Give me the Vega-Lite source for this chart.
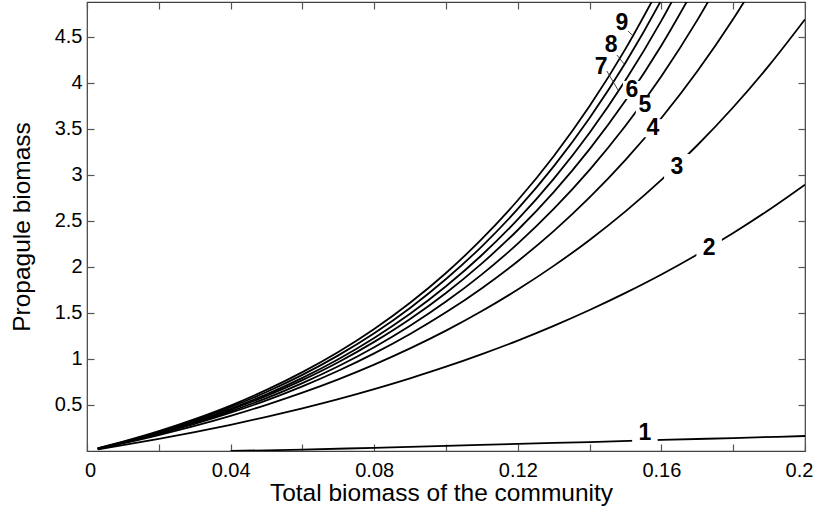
{
  "$schema": "https://vega.github.io/schema/vega-lite/v6.json",
  "width": 718,
  "height": 449,
  "autosize": "none",
  "padding": {"left": 87, "top": 2, "right": 11, "bottom": 61},
  "background": "white",
  "config": {
    "view": {"stroke": "#404040", "strokeWidth": 1.2},
    "axis": {
      "domain": false,
      "grid": false,
      "tickColor": "#555555",
      "tickSize": -7,
      "tickWidth": 1.2,
      "labelFont": "Liberation Sans",
      "labelFontSize": 20,
      "labelColor": "#000000",
      "titleFont": "Liberation Sans",
      "titleFontSize": 24.5,
      "titleFontWeight": "normal",
      "titleColor": "#000000"
    }
  },
  "datasets": {
    "curves": [
      {"curve": "1", "x": 0.04, "y": 0.0}, {"curve": "1", "x": 0.06, "y": 0.015}, {"curve": "1", "x": 0.08, "y": 0.035}, {"curve": "1", "x": 0.1, "y": 0.055}, {"curve": "1", "x": 0.12, "y": 0.078}, {"curve": "1", "x": 0.14, "y": 0.097}, {"curve": "1", "x": 0.16, "y": 0.12}, {"curve": "1", "x": 0.18, "y": 0.141}, {"curve": "1", "x": 0.2, "y": 0.163},

      {"curve": "2", "x": 0.003, "y": 0.018}, {"curve": "2", "x": 0.01, "y": 0.063}, {"curve": "2", "x": 0.02, "y": 0.132}, {"curve": "2", "x": 0.03, "y": 0.205}, {"curve": "2", "x": 0.04, "y": 0.285}, {"curve": "2", "x": 0.05, "y": 0.371}, {"curve": "2", "x": 0.06, "y": 0.464}, {"curve": "2", "x": 0.07, "y": 0.564}, {"curve": "2", "x": 0.08, "y": 0.673}, {"curve": "2", "x": 0.09, "y": 0.79}, {"curve": "2", "x": 0.1, "y": 0.916}, {"curve": "2", "x": 0.11, "y": 1.053}, {"curve": "2", "x": 0.12, "y": 1.2}, {"curve": "2", "x": 0.13, "y": 1.36}, {"curve": "2", "x": 0.14, "y": 1.532}, {"curve": "2", "x": 0.15, "y": 1.718}, {"curve": "2", "x": 0.16, "y": 1.918}, {"curve": "2", "x": 0.17, "y": 2.135}, {"curve": "2", "x": 0.18, "y": 2.369}, {"curve": "2", "x": 0.19, "y": 2.622}, {"curve": "2", "x": 0.2, "y": 2.895},

      {"curve": "3", "x": 0.003, "y": 0.024}, {"curve": "3", "x": 0.01, "y": 0.082}, {"curve": "3", "x": 0.02, "y": 0.173}, {"curve": "3", "x": 0.03, "y": 0.272}, {"curve": "3", "x": 0.04, "y": 0.381}, {"curve": "3", "x": 0.05, "y": 0.502}, {"curve": "3", "x": 0.06, "y": 0.634}, {"curve": "3", "x": 0.07, "y": 0.779}, {"curve": "3", "x": 0.08, "y": 0.939}, {"curve": "3", "x": 0.09, "y": 1.115}, {"curve": "3", "x": 0.1, "y": 1.308}, {"curve": "3", "x": 0.11, "y": 1.521}, {"curve": "3", "x": 0.12, "y": 1.755}, {"curve": "3", "x": 0.13, "y": 2.012}, {"curve": "3", "x": 0.14, "y": 2.294}, {"curve": "3", "x": 0.15, "y": 2.605}, {"curve": "3", "x": 0.16, "y": 2.947}, {"curve": "3", "x": 0.17, "y": 3.323}, {"curve": "3", "x": 0.18, "y": 3.736}, {"curve": "3", "x": 0.19, "y": 4.191}, {"curve": "3", "x": 0.2, "y": 4.691},

      {"curve": "4", "x": 0.003, "y": 0.025}, {"curve": "4", "x": 0.01, "y": 0.087}, {"curve": "4", "x": 0.02, "y": 0.185}, {"curve": "4", "x": 0.03, "y": 0.294}, {"curve": "4", "x": 0.04, "y": 0.416}, {"curve": "4", "x": 0.05, "y": 0.551}, {"curve": "4", "x": 0.06, "y": 0.703}, {"curve": "4", "x": 0.07, "y": 0.872}, {"curve": "4", "x": 0.08, "y": 1.061}, {"curve": "4", "x": 0.09, "y": 1.272}, {"curve": "4", "x": 0.1, "y": 1.507}, {"curve": "4", "x": 0.11, "y": 1.77}, {"curve": "4", "x": 0.12, "y": 2.063}, {"curve": "4", "x": 0.13, "y": 2.39}, {"curve": "4", "x": 0.14, "y": 2.756}, {"curve": "4", "x": 0.15, "y": 3.164}, {"curve": "4", "x": 0.16, "y": 3.619}, {"curve": "4", "x": 0.17, "y": 4.127}, {"curve": "4", "x": 0.18, "y": 4.695}, {"curve": "4", "x": 0.19, "y": 5.328},

      {"curve": "5", "x": 0.003, "y": 0.026}, {"curve": "5", "x": 0.01, "y": 0.089}, {"curve": "5", "x": 0.02, "y": 0.19}, {"curve": "5", "x": 0.03, "y": 0.303}, {"curve": "5", "x": 0.04, "y": 0.431}, {"curve": "5", "x": 0.05, "y": 0.575}, {"curve": "5", "x": 0.06, "y": 0.738}, {"curve": "5", "x": 0.07, "y": 0.921}, {"curve": "5", "x": 0.08, "y": 1.128}, {"curve": "5", "x": 0.09, "y": 1.361}, {"curve": "5", "x": 0.1, "y": 1.624}, {"curve": "5", "x": 0.11, "y": 1.92}, {"curve": "5", "x": 0.12, "y": 2.254}, {"curve": "5", "x": 0.13, "y": 2.631}, {"curve": "5", "x": 0.14, "y": 3.056}, {"curve": "5", "x": 0.15, "y": 3.535}, {"curve": "5", "x": 0.16, "y": 4.074}, {"curve": "5", "x": 0.17, "y": 4.683}, {"curve": "5", "x": 0.18, "y": 5.37},

      {"curve": "6", "x": 0.003, "y": 0.026}, {"curve": "6", "x": 0.01, "y": 0.092}, {"curve": "6", "x": 0.02, "y": 0.196}, {"curve": "6", "x": 0.03, "y": 0.314}, {"curve": "6", "x": 0.04, "y": 0.448}, {"curve": "6", "x": 0.05, "y": 0.599}, {"curve": "6", "x": 0.06, "y": 0.771}, {"curve": "6", "x": 0.07, "y": 0.965}, {"curve": "6", "x": 0.08, "y": 1.186}, {"curve": "6", "x": 0.09, "y": 1.435}, {"curve": "6", "x": 0.1, "y": 1.718}, {"curve": "6", "x": 0.11, "y": 2.039}, {"curve": "6", "x": 0.12, "y": 2.402}, {"curve": "6", "x": 0.13, "y": 2.814}, {"curve": "6", "x": 0.14, "y": 3.281}, {"curve": "6", "x": 0.15, "y": 3.809}, {"curve": "6", "x": 0.16, "y": 4.408}, {"curve": "6", "x": 0.17, "y": 5.087},

      {"curve": "7", "x": 0.003, "y": 0.027}, {"curve": "7", "x": 0.01, "y": 0.094}, {"curve": "7", "x": 0.02, "y": 0.2}, {"curve": "7", "x": 0.03, "y": 0.321}, {"curve": "7", "x": 0.04, "y": 0.459}, {"curve": "7", "x": 0.05, "y": 0.616}, {"curve": "7", "x": 0.06, "y": 0.795}, {"curve": "7", "x": 0.07, "y": 0.998}, {"curve": "7", "x": 0.08, "y": 1.229}, {"curve": "7", "x": 0.09, "y": 1.491}, {"curve": "7", "x": 0.1, "y": 1.79}, {"curve": "7", "x": 0.11, "y": 2.13}, {"curve": "7", "x": 0.12, "y": 2.517}, {"curve": "7", "x": 0.13, "y": 2.958}, {"curve": "7", "x": 0.14, "y": 3.459}, {"curve": "7", "x": 0.15, "y": 4.029}, {"curve": "7", "x": 0.16, "y": 4.677}, {"curve": "7", "x": 0.17, "y": 5.415},

      {"curve": "8", "x": 0.003, "y": 0.028}, {"curve": "8", "x": 0.01, "y": 0.097}, {"curve": "8", "x": 0.02, "y": 0.208}, {"curve": "8", "x": 0.03, "y": 0.334}, {"curve": "8", "x": 0.04, "y": 0.477}, {"curve": "8", "x": 0.05, "y": 0.641}, {"curve": "8", "x": 0.06, "y": 0.827}, {"curve": "8", "x": 0.07, "y": 1.039}, {"curve": "8", "x": 0.08, "y": 1.28}, {"curve": "8", "x": 0.09, "y": 1.555}, {"curve": "8", "x": 0.1, "y": 1.869}, {"curve": "8", "x": 0.11, "y": 2.225}, {"curve": "8", "x": 0.12, "y": 2.631}, {"curve": "8", "x": 0.13, "y": 3.094}, {"curve": "8", "x": 0.14, "y": 3.62}, {"curve": "8", "x": 0.15, "y": 4.22}, {"curve": "8", "x": 0.16, "y": 4.903}, {"curve": "8", "x": 0.17, "y": 5.68},

      {"curve": "9", "x": 0.003, "y": 0.029}, {"curve": "9", "x": 0.01, "y": 0.101}, {"curve": "9", "x": 0.02, "y": 0.215}, {"curve": "9", "x": 0.03, "y": 0.346}, {"curve": "9", "x": 0.04, "y": 0.494}, {"curve": "9", "x": 0.05, "y": 0.664}, {"curve": "9", "x": 0.06, "y": 0.857}, {"curve": "9", "x": 0.07, "y": 1.076}, {"curve": "9", "x": 0.08, "y": 1.326}, {"curve": "9", "x": 0.09, "y": 1.611}, {"curve": "9", "x": 0.1, "y": 1.935}, {"curve": "9", "x": 0.11, "y": 2.305}, {"curve": "9", "x": 0.12, "y": 2.725}, {"curve": "9", "x": 0.13, "y": 3.204}, {"curve": "9", "x": 0.14, "y": 3.749}, {"curve": "9", "x": 0.15, "y": 4.371}, {"curve": "9", "x": 0.16, "y": 5.078}
    ],
    "labels": [
      {"label": "1", "x": 0.1554, "y": 0.196},
      {"label": "2", "x": 0.1733, "y": 2.207},
      {"label": "3", "x": 0.1643, "y": 3.09},
      {"label": "4", "x": 0.1576, "y": 3.508},
      {"label": "5", "x": 0.1554, "y": 3.761},
      {"label": "6", "x": 0.1518, "y": 3.924},
      {"label": "7", "x": 0.1432, "y": 4.174},
      {"label": "8", "x": 0.146, "y": 4.413},
      {"label": "9", "x": 0.149, "y": 4.652}
    ],
    "leaders": [
      {"label": "7", "x": 0.1448, "y": 4.13, "x2": 0.1479, "y2": 3.924},
      {"label": "8", "x": 0.1476, "y": 4.304, "x2": 0.1496, "y2": 4.207},
      {"label": "9", "x": 0.1507, "y": 4.565, "x2": 0.1524, "y2": 4.5}
    ]
  },
  "resolve": {"axis": {"x": "independent", "y": "independent"}},
  "layer": [
    {
      "data": {"name": "curves"},
      "mark": {"type": "line", "color": "#000000", "strokeWidth": 1.8, "interpolate": "monotone", "clip": true},
      "encoding": {
        "x": {
          "field": "x", "type": "quantitative",
          "scale": {"domain": [0, 0.2], "nice": false, "zero": false},
          "axis": {
            "orient": "bottom",
            "title": "Total biomass of the community",
            "titleX": 354,
            "values": [0, 0.02, 0.04, 0.06, 0.08, 0.1, 0.12, 0.14, 0.16, 0.18, 0.2],
            "labelExpr": "abs(round(datum.value * 50)) % 2 == 0 ? format(datum.value, '~g') : ''",
            "labelOffset": {"expr": "datum.value >= 0.19 ? -6 : (datum.value <= 0.001 ? 3 : 0)"},
            "labelPadding": 16,
            "labelFlush": false,
            "labelOverlap": false,
            "titlePadding": 1
          }
        },
        "y": {
          "field": "y", "type": "quantitative",
          "scale": {"domain": [0, 4.88], "nice": false, "zero": false},
          "axis": {
            "orient": "left",
            "title": "Propagule biomass",
            "values": [0.5, 1, 1.5, 2, 2.5, 3, 3.5, 4, 4.5],
            "format": "~g",
            "labelPadding": 12,
            "labelFlush": false,
            "labelOverlap": false,
            "titlePadding": 20
          }
        },
        "detail": {"field": "curve", "type": "nominal"}
      }
    },
    {
      "data": {"name": "labels"},
      "transform": [{"filter": {"field": "label", "oneOf": ["1", "2", "3"]}}],
      "mark": {"type": "point", "shape": "square", "filled": true, "color": "#ffffff", "opacity": 1, "size": 650, "strokeWidth": 0},
      "encoding": {
        "x": {
          "field": "x", "type": "quantitative",
          "axis": {"orient": "top", "title": null, "labels": false, "values": [0, 0.02, 0.04, 0.06, 0.08, 0.1, 0.12, 0.14, 0.16, 0.18, 0.2]}
        },
        "y": {
          "field": "y", "type": "quantitative",
          "axis": {"orient": "right", "title": null, "labels": false, "values": [0.5, 1, 1.5, 2, 2.5, 3, 3.5, 4, 4.5]}
        }
      }
    },
    {
      "data": {"name": "labels"},
      "transform": [{"filter": {"field": "label", "oneOf": ["4", "5", "6"]}}],
      "mark": {"type": "point", "shape": "square", "filled": true, "color": "#ffffff", "opacity": 1, "size": 330, "strokeWidth": 0},
      "encoding": {
        "x": {"field": "x", "type": "quantitative", "axis": null},
        "y": {"field": "y", "type": "quantitative", "axis": null}
      }
    },
    {
      "data": {"name": "leaders"},
      "mark": {"type": "rule", "color": "#333333", "strokeWidth": 0.9},
      "encoding": {
        "x": {"field": "x", "type": "quantitative", "axis": null},
        "y": {"field": "y", "type": "quantitative", "axis": null},
        "x2": {"field": "x2"},
        "y2": {"field": "y2"}
      }
    },
    {
      "data": {"name": "labels"},
      "mark": {"type": "text", "font": "Liberation Sans", "fontWeight": "bold", "fontSize": 23, "color": "#000000", "align": "center", "baseline": "middle"},
      "encoding": {
        "x": {"field": "x", "type": "quantitative", "axis": null},
        "y": {"field": "y", "type": "quantitative", "axis": null},
        "text": {"field": "label"}
      }
    }
  ]
}
